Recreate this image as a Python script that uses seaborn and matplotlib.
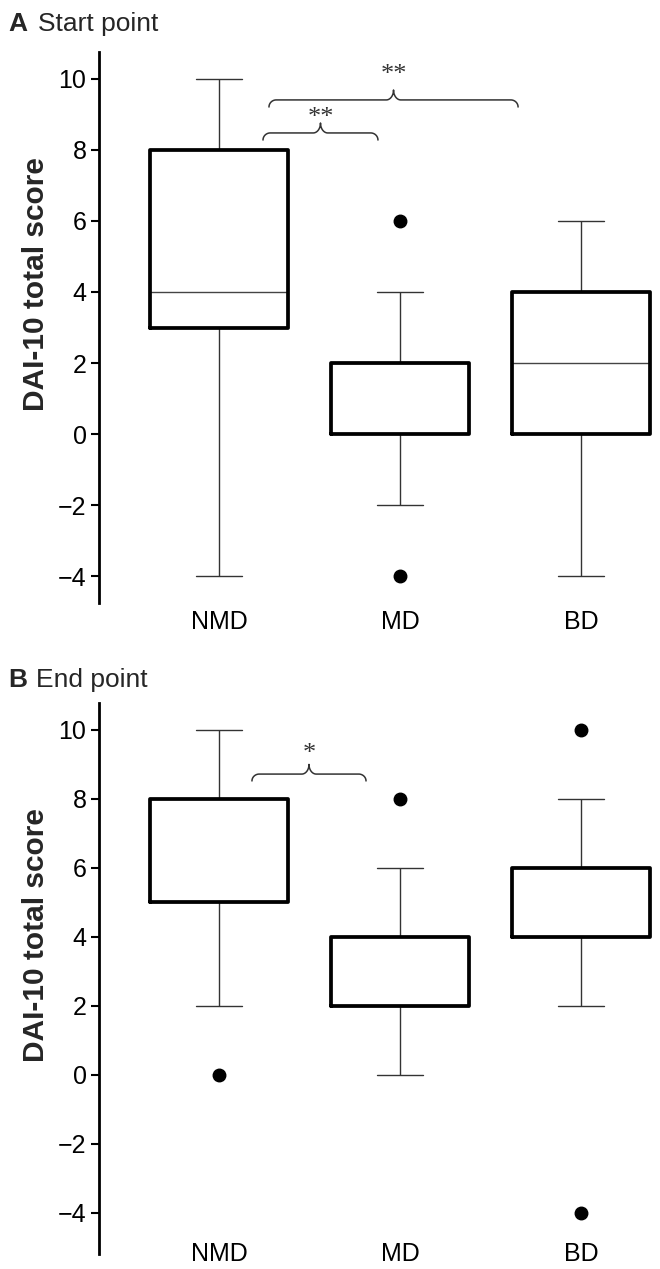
import numpy as np
import pandas as pd
import matplotlib
matplotlib.use("Agg")
import matplotlib.pyplot as plt
import seaborn as sns

groups = ["NMD", "MD", "BD"]

# scores (quartiles, whiskers, outliers)
start_nmd = [-4, 3, 4, 8, 10]
start_md = [-4, -2, 0, 0, 2, 2, 2, 4, 6]
start_bd = [-4, 0, 2, 4, 6]

end_nmd = [0, 2, 5, 5, 5, 8, 8, 8, 10]
end_md = [0, 2, 2, 2, 2, 4, 4, 6, 8]
end_bd = [-4, 2, 4, 4, 4, 6, 6, 8, 10]

# significance braces: (from x, to x, line y, label, label y)
start_braces = [(0.243, 0.878, 8.48, "**", 8.72), (0.276, 1.652, 9.41, "**", 9.93)]
end_braces = [(0.182, 0.812, 8.72, "*", 9.14)]


def make_df(nmd, md, bd):
    rows = []
    for g, vals in zip(groups, [nmd, md, bd]):
        for v in vals:
            rows.append({"group": g, "score": v})
    return pd.DataFrame(rows)


def draw_brace(ax, x0, x1, y, drop=0.2, rise=0.28, rx=0.04):
    xm = (x0 + x1) / 2
    t = np.linspace(0, np.pi / 2, 20)
    lx = x0 + rx - rx * np.cos(t)
    ly = y - drop + drop * np.sin(t)
    mx = xm - rx + rx * np.sin(t)
    my = y + rise - rise * np.cos(t)
    xs = np.concatenate([lx, mx])
    ys = np.concatenate([ly, my])
    xs = np.concatenate([xs, (x0 + x1 - xs)[::-1]])
    ys = np.concatenate([ys, ys[::-1]])
    ax.plot(xs, ys, color="#333333", lw=1.1, solid_capstyle="round")


sns.set_theme(style="ticks")
plt.rcParams["font.family"] = ["Liberation Sans", "DejaVu Sans"]

fig = plt.figure(figsize=(6.6, 12.69), dpi=100)
axA = fig.add_axes([99 / 660, 1 - 603 / 1269, 561 / 660, 551 / 1269])
axB = fig.add_axes([99 / 660, 1 - 1254 / 1269, 561 / 660, 551 / 1269])

panels = [
    (axA, make_df(start_nmd, start_md, start_bd), start_braces, (-4.76, 10.76), 5),
    (axB, make_df(end_nmd, end_md, end_bd), end_braces, (-5.19, 10.78), -8.6),
]

for ax, df, braces, ylim, xpad in panels:
    sns.boxplot(
        data=df, x="group", y="score", order=groups, ax=ax,
        width=0.762, fill=False, color="black", whis=1.5,
        boxprops=dict(linewidth=2.7, color="black", zorder=3),
        whiskerprops=dict(linewidth=1.0, color="#333333"),
        capprops=dict(linewidth=1.0, color="#333333"),
        medianprops=dict(linewidth=1.0, color="#444444", zorder=2),
        flierprops=dict(marker="o", markerfacecolor="black",
                        markeredgecolor="black", markersize=9),
        capwidths=0.25,
    )
    for b in braces:
        draw_brace(ax, b[0], b[1], b[2])
        ax.text((b[0] + b[1]) / 2, b[4], b[3], ha="center", va="baseline",
                fontsize=19, color="#333333",
                family=["Liberation Serif", "DejaVu Serif"])
    ax.set_xlim(-0.663, 2.436)
    ax.set_ylim(*ylim)
    ax.set_yticks(range(-4, 11, 2))
    ax.set_xlabel("")
    ax.set_ylabel("DAI-10 total score", fontsize=21.5, fontweight="bold")
    ax.yaxis.set_label_coords(-0.087, 0.579)
    sns.despine(ax=ax, bottom=True)
    ax.spines["left"].set_linewidth(2.0)
    ax.spines["left"].set_color("black")
    ax.tick_params(axis="y", labelsize=18, length=6, width=1.5, pad=3, colors="black")
    ax.tick_params(axis="x", labelsize=18, length=0, pad=xpad, colors="black")

fig.text(8 / 660, 1 - 31 / 1269, "A", fontsize=19, fontweight="bold", va="baseline")
fig.text(38 / 660, 1 - 31 / 1269, "Start point", fontsize=19, va="baseline")
fig.text(8 / 660, 1 - 687 / 1269, "B", fontsize=19, fontweight="bold", va="baseline")
fig.text(36 / 660, 1 - 687 / 1269, "End point", fontsize=19, va="baseline")

fig.savefig("out.png", dpi=100)
